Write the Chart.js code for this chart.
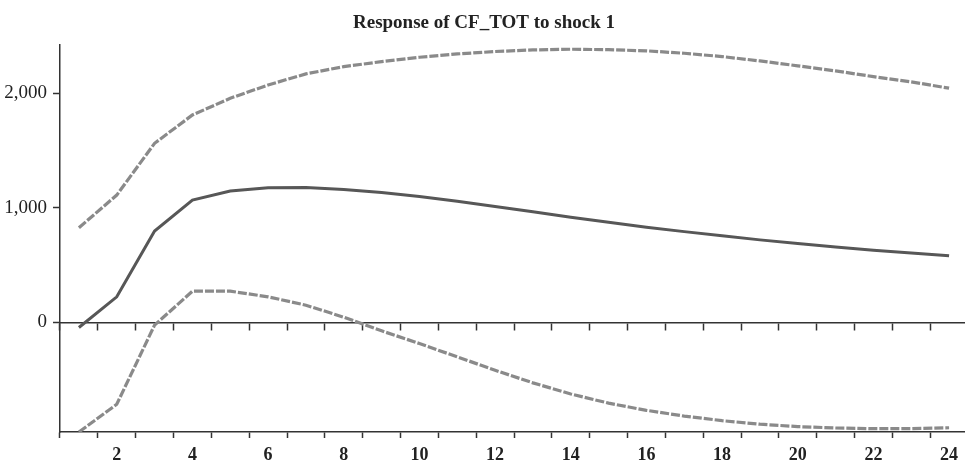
<!DOCTYPE html>
<html>
<head>
<meta charset="utf-8">
<script src="https://cdn.jsdelivr.net/npm/chart.js@4.4.1/dist/chart.umd.min.js"></script>
<style>
  html, body { margin: 0; padding: 0; background: #fff; overflow: hidden; }
  canvas { display: block; }
</style>
</head>
<body>
<canvas id="irf" width="970" height="462"></canvas>
<script>
// impulse response of CF_TOT, periods 1..24, with +/- 2 S.E. bands
const periods = [1, 2, 3, 4, 5, 6, 7, 8, 9, 10, 11, 12, 13, 14, 15, 16, 17, 18, 19, 20, 21, 22, 23, 24];
const response = [-45, 223, 797, 1068, 1146, 1175, 1177, 1160, 1134, 1099, 1058, 1012,
                  966, 918, 873, 831, 792, 755, 720, 688, 658, 630, 605, 581];
const upperBand = [826, 1111, 1563, 1810, 1956, 2072, 2169, 2232, 2276, 2314, 2343, 2364,
                   2378, 2384, 2380, 2370, 2349, 2320, 2282, 2239, 2195, 2145, 2099, 2044];
const lowerBand = [-957, -715, -24, 272, 272, 223, 150, 45, -74, -185, -301, -418,
                   -528, -625, -705, -768, -818, -858, -889, -910, -922, -928, -927, -920];
const yTicks = [0, 1000, 2000];
const yMin = -957;
const yMax = 2421;

const axisColor = '#333333';
const serif = "'Liberation Serif', 'Times New Roman', serif";

const ctx = document.getElementById('irf').getContext('2d');

new Chart(ctx, {
    type: 'line',
    data: {
        labels: periods,
        datasets: [
            {
                label: 'upper',
                data: upperBand,
                borderColor: '#8a8a8a',
                borderWidth: 3.2,
                borderDash: [9, 2],
                pointRadius: 0,
                tension: 0
            },
            {
                label: 'lower',
                data: lowerBand,
                borderColor: '#8a8a8a',
                borderWidth: 3.2,
                borderDash: [9, 2],
                pointRadius: 0,
                tension: 0
            },
            {
                label: 'response',
                data: response,
                borderColor: '#575757',
                borderWidth: 3,
                pointRadius: 0,
                tension: 0
            }
        ]
    },
    options: {
        responsive: false,
        animation: false,
        layout: {
            padding: { left: 0, right: 2, top: 0, bottom: 0 }
        },
        plugins: {
            legend: { display: false },
            tooltip: { enabled: false },
            title: {
                display: true,
                text: 'Response of CF_TOT to shock 1',
                color: '#222',
                font: { family: serif, size: 19, weight: 'bold', lineHeight: 1.2 },
                padding: { top: 12, bottom: 10.2 }
            }
        },
        scales: {
            x: {
                type: 'category',
                position: 'bottom',
                offset: true,
                grid: {
                    offset: true,
                    drawOnChartArea: false,
                    drawTicks: true,
                    tickLength: 6,
                    tickColor: axisColor,
                    tickWidth: 1.5
                },
                border: { display: true, color: axisColor, width: 1.5 },
                ticks: {
                    autoSkip: false,
                    maxRotation: 0,
                    padding: 7,
                    color: '#222',
                    font: { family: serif, size: 18, weight: 'bold' },
                    callback: function (val) {
                        const p = this.getLabelForValue(val);
                        return p % 2 === 0 ? String(p) : '';
                    }
                },
                afterFit: (scale) => { scale.height = 30; }
            },
            // zero line with period tick marks
            x2: {
                type: 'category',
                axis: 'x',
                position: { y: 0 },
                offset: true,
                grid: {
                    offset: true,
                    drawOnChartArea: false,
                    drawTicks: true,
                    tickLength: 7,
                    tickColor: axisColor,
                    tickWidth: 1.5
                },
                border: { display: true, color: axisColor, width: 1.5 },
                ticks: { display: false, autoSkip: false }
            },
            y: {
                position: 'left',
                min: yMin,
                max: yMax,
                grid: {
                    drawOnChartArea: false,
                    drawTicks: true,
                    tickLength: 7,
                    tickColor: axisColor,
                    tickWidth: 1.5
                },
                border: { display: true, color: axisColor, width: 1.5 },
                ticks: {
                    padding: 6,
                    color: '#222',
                    font: { family: serif, size: 19 },
                    callback: (v) => v.toLocaleString('en-US')
                },
                afterBuildTicks: (scale) => {
                    scale.ticks = yTicks.map(v => ({ value: v }));
                },
                afterFit: (scale) => { scale.width = 60; }
            }
        }
    }
});
</script>
</body>
</html>
